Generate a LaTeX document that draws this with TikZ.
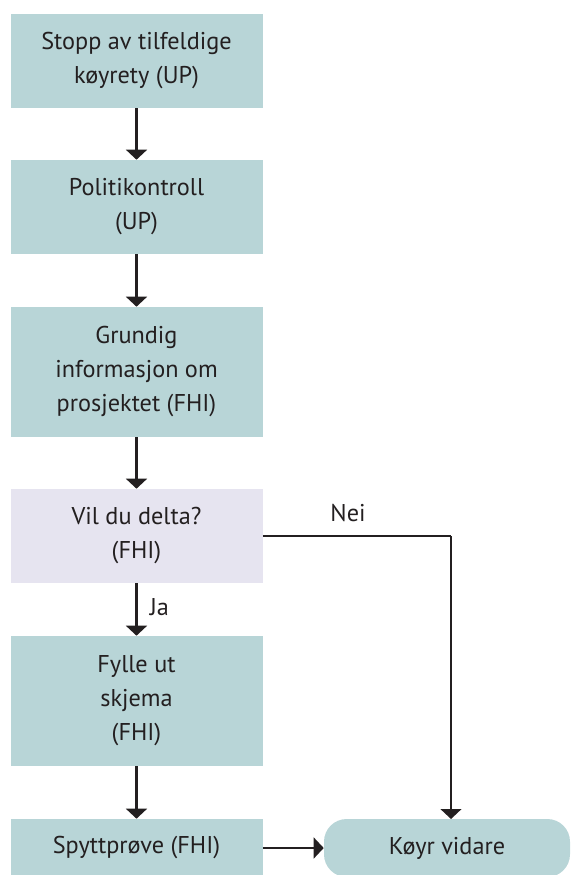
\documentclass[tikz,border=0pt]{standalone}
\usepackage{fontspec}
\setmainfont{PT Sans}
\usetikzlibrary{arrows.meta}
\definecolor{teal}{HTML}{B8D5D7}
\definecolor{lav}{HTML}{E6E4F0}
\definecolor{ink}{HTML}{231F20}
\begin{document}
\begin{tikzpicture}[x=0.75pt,y=-0.75pt,
  box/.style={fill=teal,draw=none,minimum width=189pt,inner sep=0pt,align=center,text=ink,
    font=\fontsize{18.2}{25.5}\selectfont},
  qbox/.style={box,fill=lav},
  endbox/.style={box,rounded corners=17pt,minimum width=184.5pt},
  arr/.style={line width=2pt,draw=ink,-{Triangle[width=15.5pt,length=7.5pt]}},
  lbl/.style={text=ink,font=\fontsize{18.2}{20}\selectfont,inner sep=0pt}]
\useasboundingbox (0,0) rectangle (571,875);
\clip (0,0) rectangle (571,875);
\node[box,minimum height=70.5pt] (b1) at (136.5,61) {Stopp av tilfeldige\\køyrety (UP)};
\node[box,minimum height=70.5pt] (b2) at (136.5,207) {Politikontroll\\(UP)};
\node[box,minimum height=97.5pt] (b3) at (136.5,372) {Grundig\\informasjon om\\prosjektet (FHI)};
\node[qbox,minimum height=70.5pt] (b4) at (136.5,536) {Vil du delta?\\(FHI)};
\node[box,minimum height=97.5pt] (b5) at (136.5,701) {Fylle ut\\skjema\\(FHI)};
\node[box,minimum height=43.5pt] (b6) at (136.5,848) {Spyttprøve (FHI)};
\node[endbox,minimum height=43.5pt] (b7) at (447,848) {Køyr vidare};
\coordinate (c1) at (451,536);
\coordinate (c2) at (451,819);
\draw[arr] (b1) -- (b2);
\draw[arr] (b2) -- (b3);
\draw[arr] (b3) -- (b4);
\draw[arr] (b4) -- node[lbl,right=9pt,pos=0.45] (ja) {Ja} (b5);
\draw[arr] (b5) -- (b6);
\draw[arr] (b6) -- (b7);
\draw[line width=2pt,draw=ink] (b4.east) -- (c1);
\draw[arr] (c1) -- (c2);
\node[lbl] (nei) at (348,513) {Nei};
\end{tikzpicture}
\end{document}
